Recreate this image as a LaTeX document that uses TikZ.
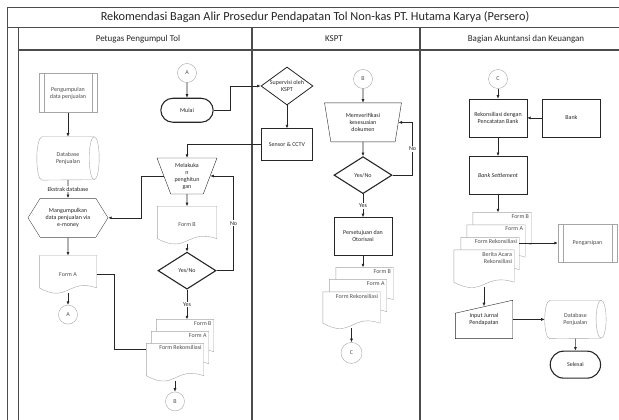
\documentclass[tikz,border=0pt]{standalone}
\usepackage{fontspec}
\setmainfont{Carlito}
\usepackage{tikz}
\usetikzlibrary{positioning}
\usetikzlibrary{calc}
\usetikzlibrary{arrows.meta}
\usetikzlibrary{shapes.geometric,shapes.misc,shapes.symbols}
\pgfdeclarelayer{background}
\pgfsetlayers{background,main}
\tikzstyle{frame} = [draw=black!70, line width=0.9pt]
\tikzstyle{lane} = [draw=black!70, line width=1.6pt]
\tikzstyle{head} = [font=\fontsize{9}{10}\selectfont, text=black!85]
\tikzstyle{line} = [draw=black!85, line width=0.6pt]
\tikzstyle{process} = [draw=black!85, rectangle, minimum height=38pt, minimum width=58pt, align=center, inner sep=1pt]
\tikzstyle{decision} = [draw=black!85, diamond, aspect=1.55, minimum width=58pt, minimum height=37pt, line width=1.1pt, inner sep=0pt, align=center]
\tikzstyle{term} = [draw=black!85, rounded rectangle, minimum height=24pt, minimum width=59pt, line width=1.1pt]
\tikzstyle{conn} = [draw=black!35, circle, minimum size=19pt, inner sep=0pt, text=black!70]
\tikzstyle{store} = [rectangle, minimum width=62pt, minimum height=2*#1 pt, align=center, text=black!70,
  append after command={\pgfextra{\begin{pgfonlayer}{background}
    \draw[black!35, fill=white] ([xshift=5pt]\tikzlastnode.north west) -- ([xshift=-5pt]\tikzlastnode.north east)
      arc[start angle=90, end angle=-90, x radius=5pt, y radius=#1pt] -- ([xshift=5pt]\tikzlastnode.south west)
      arc[start angle=270, end angle=90, x radius=5pt, y radius=#1pt] -- cycle;
    \draw[black!35] ([xshift=-5pt]\tikzlastnode.north east) arc[start angle=90, end angle=270, x radius=5pt, y radius=#1pt];
    \end{pgfonlayer}}}]
\tikzstyle{manop} = [draw=black!85, trapezium, shape border rotate=180, trapezium stretches=true, align=center, inner sep=1pt]
\tikzstyle{prepare} = [draw=black!70, signal, signal to=west and east, signal pointer angle=116, minimum width=80pt, minimum height=39pt, align=center, inner sep=1pt]
\tikzstyle{predef} = [draw=black!35, rectangle, minimum height=39pt, minimum width=58pt, align=center, text=black!70,
  path picture={\draw[black!35] ([xshift=5pt]path picture bounding box.north west) -- ([xshift=5pt]path picture bounding box.south west)
    ([xshift=-5pt]path picture bounding box.north east) -- ([xshift=-5pt]path picture bounding box.south east);}]
\tikzstyle{docu} = [rectangle, minimum width=57pt, minimum height=37pt, inner sep=1pt, text=black!70,
  append after command={\pgfextra{\begin{pgfonlayer}{background}
    \draw[black!35, fill=white] (\tikzlastnode.north west) -- (\tikzlastnode.north east)
      -- ([yshift=5pt]\tikzlastnode.south east)
      .. controls ([yshift=15pt]\tikzlastnode.south) and ([yshift=-11pt]\tikzlastnode.south) ..
      ([yshift=5pt]\tikzlastnode.south west) -- cycle;
    \end{pgfonlayer}}}]
\tikzstyle{docfront} = [docu, label={[anchor=north east, inner sep=2pt, align=right, text=black!70]north east:#1}]
\tikzstyle{manin} = [rectangle, minimum width=57pt, minimum height=38pt, inner sep=1pt, align=center,
  append after command={\pgfextra{\begin{pgfonlayer}{background}
    \draw[black!85, fill=white] (\tikzlastnode.south west) -- (\tikzlastnode.south east)
      -- (\tikzlastnode.north east) -- ([yshift=-13pt]\tikzlastnode.north west) -- cycle;
    \end{pgfonlayer}}}]

\begin{document}
\begin{tikzpicture}[x=1pt, y=-1pt, >={Latex[length=3.5pt,width=3pt]}, font=\fontsize{6}{7}\selectfont, text=black!85]
    \useasboundingbox (0,0) rectangle (619,420);
    % swimlanes
    \draw [frame] (7,420) -- (7,7) -- (619,7);
    \draw [frame] (7,27) -- (619,27);
    \draw [frame] (18,420) -- (18,27);
    \draw [lane] (18,50) -- (619,50);
    \draw [lane] (252,27) -- (252,420);
    \draw [lane] (420,27) -- (420,420);
    \node [font=\fontsize{12.3}{14}\selectfont] (judul) at (315,17) {Rekomendasi Bagan Alir Prosedur Pendapatan Tol Non-kas PT. Hutama Karya (Persero)};
    \node [head] (petugas) at (138,39) {Petugas Pengumpul Tol};
    \node [head] (kspt) at (334,39) {KSPT};
    \node [head] (akuntansi) at (526,39) {Bagian Akuntansi dan Keuangan};

    % Petugas Pengumpul Tol
    \node [predef] (kumpul) at (68,93) {Pengumpulan\\data penjualan};
    \node [store=21.5, below=24pt of kumpul] (dbjual) {Database\\Penjualan};
    \node [prepare, below=18pt of dbjual] (emoney) {Mangumpulkan\\data penjualan via\\e-money};
    \node [docu, below=18pt of emoney] (forma) {Form A};
    \node [conn, below=12pt of forma] (cona) {A};

    \node [conn] (conatop) at (187,73) {A};
    \node [term, below=15pt of conatop] (mulai) {Mulai};
    \node [manop, trapezium angle=68, minimum width=60pt, minimum height=36pt, below=35pt of mulai] (hitung) {Melakuka\\n\\penghitun\\gan};
    \node [docu, minimum width=59pt, below=12pt of hitung] (formb) {Form B};
    \node [decision, below=8pt of formb] (cek) {Yes/No};
    \node [docfront=Form B] (tb) at (185,338) {};
    \node [docfront=Form A] (ta) at ($(tb)+(-5,12)$) {};
    \node [docfront=Form Rekonsiliasi] (trekon) at ($(ta)+(-5,12)$) {};
    \node [conn, below=11pt of trekon] (conb) {B};

    % KSPT
    \node [decision, line width=0.8pt, minimum width=52pt, minimum height=38pt] (supervisi) at (287,86) {Supervisi oleh\\KSPT};
    \node [process, minimum width=51pt, minimum height=32pt, below=23pt of supervisi] (cctv) {Sensor \& CCTV};
    \node [conn] (conbtop) at (363,79) {B};
    \node [manop, trapezium angle=80, minimum width=77pt, minimum height=39pt, below=14pt of conbtop] (verif) {Memverifikasi\\kesesuaian\\dokumen};
    \node [decision, below=14pt of verif] (cekk) {Yes/No};
    \node [process, below=23pt of cekk] (setuju) {Persetujuan dan\\Otorisasi};
    \node [docfront=Form B] (kb) at (364.5,286) {};
    \node [docfront=Form A] (ka) at ($(kb)+(-6.5,12)$) {};
    \node [docfront=Form Rekonsiliasi, minimum height=36pt] (krekon) at ($(ka)+(-6.5,12)$) {};
    \node [conn, minimum size=21pt, below=14pt of krekon] (conc) {C};

    % Bagian Akuntansi dan Keuangan
    \node [conn] (conctop) at (498,79) {C};
    \node [process, below=10pt of conctop] (rekon) {Rekonsiliasi dengan\\Pencatatan Bank};
    \node [process, right=15pt of rekon] (bank) {Bank};
    \node [process, below=19pt of rekon] (settle) {\itshape Bank Settlement};
    \node [docfront=Form B, minimum width=58pt] (ab) at (502,231) {};
    \node [docfront=Form A, minimum width=58pt] (aa) at ($(ab)+(-6,12.5)$) {};
    \node [docfront=Form Rekonsiliasi, minimum width=58pt] (arekon) at ($(aa)+(-6,12.5)$) {};
    \node [docfront=Berita Acara\\Rekonsiliasi, minimum width=60pt] (berita) at ($(arekon)+(-6,12.5)$) {};
    \node [predef, minimum width=59pt, minimum height=38pt] (arsip) at (587.5,243) {Pengarsipan};
    \node [manin, below=13pt of berita] (jurnal) {Input Jurnal\\Pendapatan};
    \node [store=19, minimum width=61pt, right=32pt of jurnal] (dbjual2) {Database\\Penjualan};
    \node [term, minimum width=57pt, minimum height=27pt, below=12pt of dbjual2] (selesai) {Selesai};

    % connections
    \draw [line,->] (kumpul) -- (dbjual);
    \draw [line,->] (dbjual) -- node[fill=white, inner sep=1pt] {Ekstrak database} (emoney);
    \draw [line,->] (emoney) -- (forma);
    \draw [line,->] (forma) -- (cona);
    \draw [line] (forma.east) -- ++(18,0) |- (trekon.west |- 0,349);
    \draw [line,->] (conatop) -- (mulai);
    \draw [line,->] (mulai.east) -- ++(17,0) |- (supervisi.west);
    \draw [line,->] (supervisi) -- (cctv);
    \draw [line,->] (cctv.west) -| (hitung.north);
    \draw [line,->] (hitung.west) -- ++(-22,0) |- (emoney.east);
    \draw [line,->] (hitung) -- (formb);
    \draw [line,->] (formb) -- (cek);
    \draw [line,->] (cek.east) -- ++(17,0) |- node[pos=0.25, fill=white, inner sep=1pt] {No} (hitung.east);
    \draw [line,->] (cek.south) -- node[fill=white, inner sep=1pt] {Yes} (cek.south |- tb.north);
    \draw [line,->] (trekon.south) -- (conb);

    \draw [line,->] (conbtop) -- (verif);
    \draw [line,->] (verif) -- (cekk);
    \draw [line,->] (cekk.east) -- ++(20,0) |- node[pos=0.25, fill=white, inner sep=1pt] {No} (verif.east);
    \draw [line,->] (cekk) -- node[fill=white, inner sep=1pt] {Yes} (setuju);
    \draw [line,->] (setuju.south) -- (setuju.south |- kb.north);
    \draw [line,->] (krekon.south) -- (conc);

    \draw [line,->] (conctop) -- (rekon);
    \draw [line,->] (bank) -- (rekon);
    \draw [line,->] (rekon) -- (settle);
    \draw [line,->] (settle.south) -- (settle.south |- ab.north);
    \draw [line,->] (arekon.east |- arsip.west) -- (arsip.west);
    \draw [line,->] (berita.south) -- ([yshift=-6pt]jurnal.north);
    \draw [line,->] (jurnal) -- (dbjual2);
    \draw [line,->] (dbjual2) -- (selesai);
\end{tikzpicture}
\end{document}
